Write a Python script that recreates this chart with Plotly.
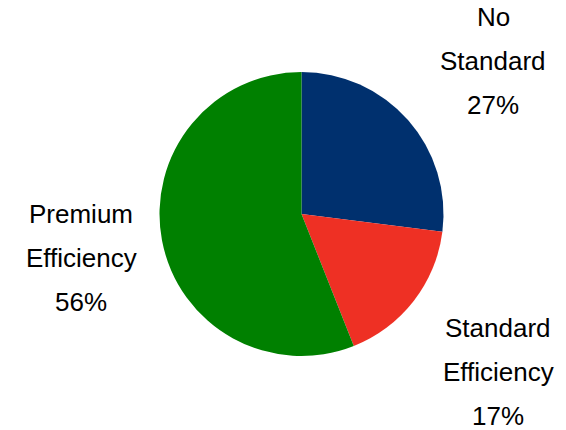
import plotly.graph_objects as go

labels = ["No Standard", "Standard Efficiency", "Premium Efficiency"]
values = [27, 17, 56]
colors = ["#00306E", "#EE3024", "#008000"]

# label block anchor positions in pixels (center x, first-line center y)
W, H = 566, 430
label_pos = {
    "No Standard": (493, 17),
    "Standard Efficiency": (498, 328),
    "Premium Efficiency": (81, 214),
}
line_gap = 44

fig = go.Figure(go.Pie(
    labels=labels,
    values=values,
    marker=dict(colors=colors, line=dict(width=0)),
    sort=False,
    direction="clockwise",
    rotation=0,
    textinfo="none",
    hoverinfo="label+percent",
    domain=dict(x=[159.5 / W, 443.5 / W], y=[1 - 357 / H, 1 - 71 / H]),
    showlegend=False,
))

annotations = []
total = sum(values)
for lab, val in zip(labels, values):
    cx, cy = label_pos[lab]
    lines = lab.split(" ") + [f"{round(val / total * 100)}%"]
    for i, ln in enumerate(lines):
        y = cy + i * line_gap
        annotations.append(dict(
            text=ln, x=cx / W, y=1 - y / H, xref="paper", yref="paper",
            xanchor="center", yanchor="middle", showarrow=False,
            font=dict(family="Liberation Sans, Arial, sans-serif", size=26, color="#000000"),
        ))

fig.update_layout(
    width=W, height=H,
    margin=dict(l=0, r=0, t=0, b=0),
    paper_bgcolor="white",
    plot_bgcolor="white",
    annotations=annotations,
)

fig.write_html("out.html")
